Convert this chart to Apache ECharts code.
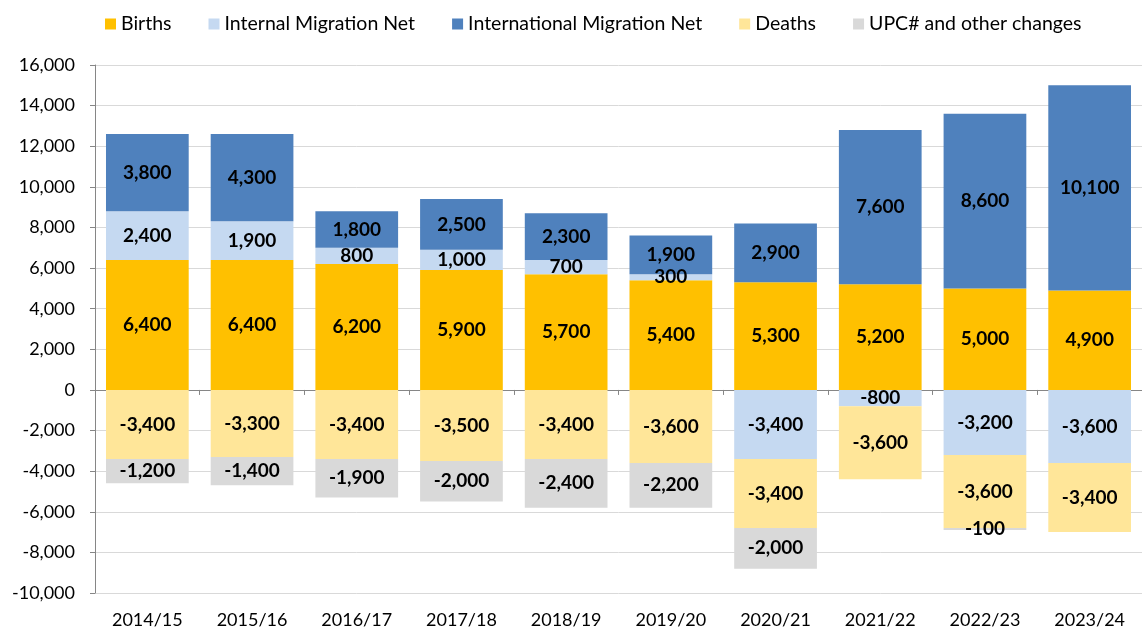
<!DOCTYPE html>
<html>
<head>
<meta charset="utf-8">
<script src="https://cdn.jsdelivr.net/npm/echarts@6/dist/echarts.min.js"></script>
<style>
html,body{margin:0;padding:0;background:#fff;}
#c{width:1142px;height:630px;}
</style>
</head>
<body>
<div id="c"></div>
<script>
var categories = ['2014/15','2015/16','2016/17','2017/18','2018/19','2019/20','2020/21','2021/22','2022/23','2023/24'];
var births = [6400, 6400, 6200, 5900, 5700, 5400, 5300, 5200, 5000, 4900];
var internalNet = [2400, 1900, 800, 1000, 700, 300, -3400, -800, -3200, -3600];
var internationalNet = [3800, 4300, 1800, 2500, 2300, 1900, 2900, 7600, 8600, 10100];
var deaths = [-3400, -3300, -3400, -3500, -3400, -3600, -3400, -3600, -3600, -3400];
var upc = [-1200, -1400, -1900, -2000, -2400, -2200, -2000, null, -100, null];

var FONT = 'Lato, "Open Sans", sans-serif';

function fmt(p) {
  if (p.value === null || p.value === undefined) return '';
  return Number(p.value).toLocaleString('en-US');
}

function mk(name, data, color) {
  return {
    name: name,
    type: 'bar',
    stack: 'total',
    data: data,
    barCategoryGap: '21%',
    itemStyle: { color: color },
    label: {
      show: true,
      position: 'inside',
      formatter: fmt,
      color: '#000',
      fontFamily: FONT,
      fontWeight: 'bold',
      fontSize: 19
    },
    emphasis: { disabled: true }
  };
}

var chart = echarts.init(document.getElementById('c'), null, { renderer: 'canvas' });
chart.setOption({
  animation: false,
  backgroundColor: '#fff',
  textStyle: { fontFamily: FONT },
  legend: {
    left: 100,
    top: 9,
    itemWidth: 11,
    itemHeight: 11,
    itemGap: 37,
    icon: 'rect',
    textStyle: { fontFamily: FONT, fontSize: 19.5, color: '#000' },
    data: ['Births', 'Internal Migration Net', 'International Migration Net', 'Deaths', 'UPC# and other changes']
  },
  grid: { left: 95, right: -8, top: 65, bottom: 37, containLabel: false },
  xAxis: [
    {
      type: 'category',
      data: categories,
      position: 'bottom',
      axisLine: { show: false, onZero: false },
      axisTick: { show: false },
      axisLabel: { fontFamily: FONT, fontSize: 18, color: '#000', margin: 18 }
    },
    {
      type: 'category',
      data: categories,
      position: 'bottom',
      axisLine: { show: true, onZero: true, lineStyle: { color: '#868686', width: 1 } },
      axisTick: { show: true, length: 5, lineStyle: { color: '#868686' } },
      axisLabel: { show: false }
    }
  ],
  yAxis: {
    type: 'value',
    min: -10000,
    max: 16000,
    interval: 2000,
    axisLine: { show: true, lineStyle: { color: '#868686', width: 1 } },
    axisTick: { show: true, length: 5, lineStyle: { color: '#868686' } },
    axisLabel: {
      fontFamily: FONT, fontSize: 18, color: '#000', margin: 20,
      formatter: function (v) { return Number(v).toLocaleString('en-US'); }
    },
    splitLine: { show: true, lineStyle: { color: '#D9D9D9', width: 1 } }
  },
  series: [
    mk('Births', births, '#FFC000'),
    mk('Internal Migration Net', internalNet, '#C5D9F1'),
    mk('International Migration Net', internationalNet, '#4F81BD'),
    mk('Deaths', deaths, '#FFE699'),
    mk('UPC# and other changes', upc, '#D9D9D9')
  ]
});
</script>
</body>
</html>
